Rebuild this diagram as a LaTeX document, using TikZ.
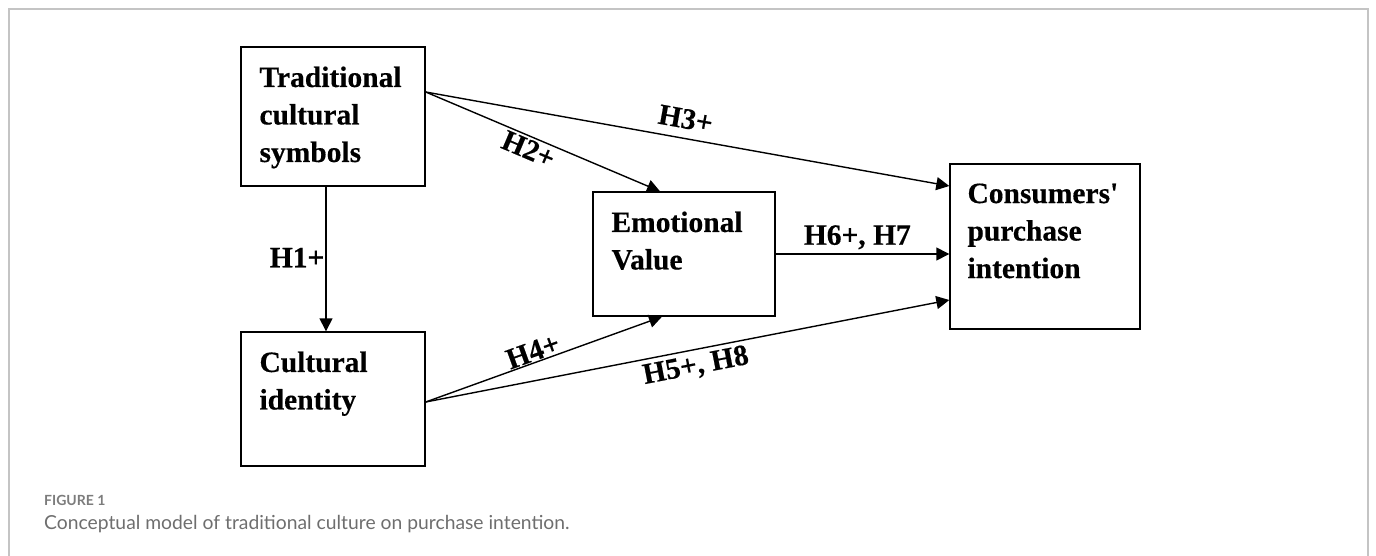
\documentclass[tikz,border=0pt]{standalone}
\usepackage{fontspec}
\setmainfont[BoldFeatures={FakeBold=0.4}]{Liberation Serif}
\newfontfamily\capfont{Lato}
\usetikzlibrary{arrows.meta,calc}
\definecolor{framegray}{HTML}{C4C4C4}
\definecolor{capgray}{HTML}{6E6E6E}
\begin{document}
\begin{tikzpicture}[x=1pt,y=-1pt,
  box/.style={draw=black, line width=1.4pt, rectangle, inner sep=0pt},
  boxtext/.style={anchor=north west, inner sep=0pt, align=left, font=\fontsize{29.5}{37.5}\selectfont\bfseries},
  conn/.style={line width=1.4pt, -{Triangle[length=13pt,width=13pt]}},
  hlab/.style={font=\fontsize{29.5}{34}\selectfont\bfseries, inner sep=3pt},
]
\useasboundingbox (0,0) rectangle (1376,555);
\draw[draw=framegray, line width=2pt] (9,570) -- (9,9) -- (1368,9) -- (1368,570);

\node[box, minimum width=184pt, minimum height=139pt] (tcs) at (333,116.5) {};
\node[box, minimum width=182pt, minimum height=124pt] (ev) at (684,254) {};
\node[box, minimum width=190pt, minimum height=165pt] (cpi) at (1045,246.5) {};
\node[box, minimum width=184pt, minimum height=134pt] (ci) at (333,399) {};

\node[boxtext] (tcst) at ([shift={(19,20)}]tcs.north west) {Traditional\\cultural\\symbols};
\node[boxtext] (evt) at ([shift={(19,20)}]ev.north west) {Emotional\\Value};
\node[boxtext] (cpit) at ([shift={(18,20)}]cpi.north west) {Consumers\textquotesingle\\purchase\\intention};
\node[boxtext] (cit) at ([shift={(19,20)}]ci.north west) {Cultural\\identity};

\draw[conn] ([xshift=-7pt]tcs.south) -- node[hlab, pos=0.49, anchor=east, inner sep=1pt] (l1) {H1+} ([xshift=-7pt]ci.north);
\draw[conn] ([yshift=24.5pt]tcs.east) -- node[hlab, sloped, below, pos=0.46, inner sep=2pt] (l2) {H2+} ([xshift=-24pt]ev.north);
\draw[conn] ([yshift=24.5pt]tcs.east) -- node[hlab, sloped, above, pos=0.49, inner sep=9pt] (l3) {H3+} ([yshift=60.5pt]cpi.west);
\draw[conn] (ev.east) -- node[hlab, above, pos=0.47, inner sep=4pt] (l6) {H6+, H7} (ev.east -| cpi.west);
\draw[conn] ([yshift=-3pt]ci.east) -- node[hlab, sloped, above, pos=0.47, inner sep=1pt] (l4) {H4+} ([xshift=-22pt]ev.south);
\draw[conn] ([yshift=-3pt]ci.east) -- node[hlab, sloped, below, pos=0.51, inner sep=4pt] (l5) {H5+, H8} ([yshift=-53.5pt]cpi.west);

\node[anchor=base west, inner sep=0pt, font=\capfont\fontsize{14}{18}\selectfont\bfseries, text=capgray!90] (fig) at (44,505) {FIGURE 1};
\node[anchor=base west, inner sep=0pt, font=\capfont\fontsize{19.3}{22}\selectfont, text=capgray] (cap) at (44,529) {Conceptual model of traditional culture on purchase intention.};
\end{tikzpicture}
\end{document}
